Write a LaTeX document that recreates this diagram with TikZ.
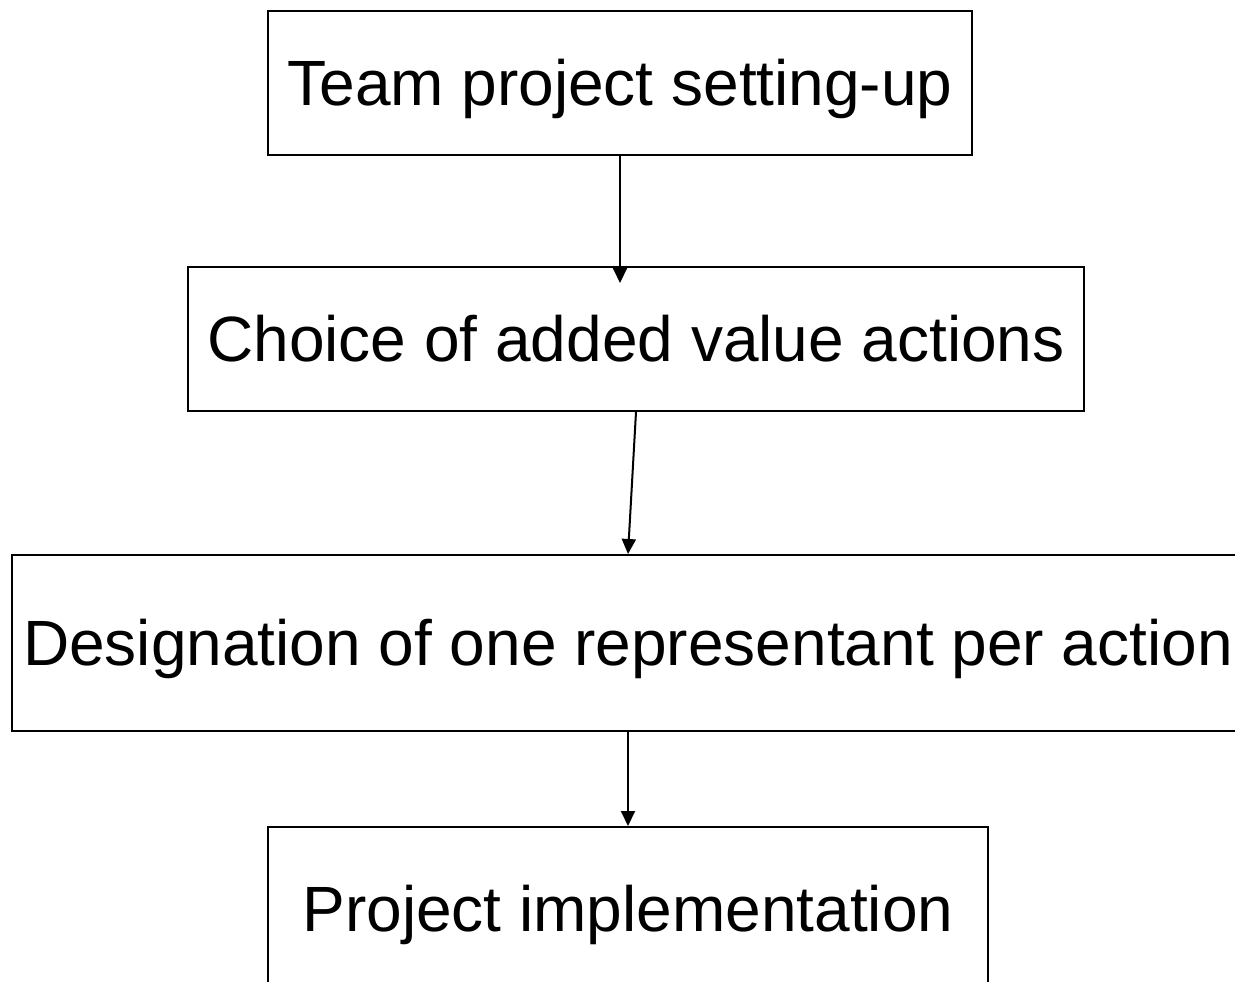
\documentclass[tikz,border=0pt]{standalone}
\usepackage{fontspec}
\setmainfont{Liberation Sans}
\usetikzlibrary{arrows.meta}
\begin{document}
\begin{tikzpicture}[x=1pt,y=-1pt,
  stepbox/.style={draw=black,line width=2pt,rectangle,inner sep=0pt,text height=46pt,text depth=1pt,font=\fontsize{64}{72}\selectfont},
  conn/.style={line width=2pt,-{Triangle[width=14pt,length=15pt]}}]
\useasboundingbox (0,0) rectangle (1235,982);
\clip (0,0) rectangle (1235,982);
\fill[white] (0,0) rectangle (1235,982);
\node[stepbox,minimum width=704pt,minimum height=144pt] (b1) at (620,83) {Team project setting-up};
\node[stepbox,minimum width=896pt,minimum height=144pt] (b2) at (636,339) {Choice of added value actions};
\node[stepbox,minimum width=1232pt,minimum height=176pt] (b3) at (628,643) {Designation of one representant per action};
\node[stepbox,minimum width=720pt,minimum height=164pt] (b4) at (628,909) {Project implementation};
\coordinate (t1) at (620,283);
\draw[conn] (b1.south) -- (t1);
\draw[conn] (b2.south) -- (b3.north);
\draw[conn] (b3.south) -- (b4.north);
\end{tikzpicture}
\end{document}
